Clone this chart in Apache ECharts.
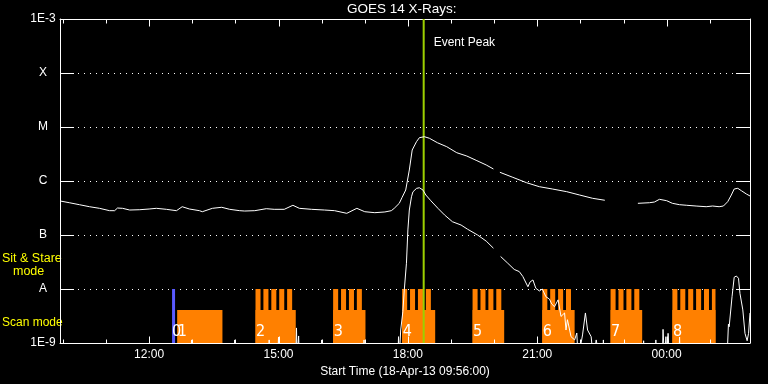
<!DOCTYPE html>
<html>
<head>
<meta charset="utf-8">
<script src="https://cdn.jsdelivr.net/npm/echarts/dist/echarts.min.js"></script>
<style>html,body{margin:0;padding:0;background:#000;}#c{width:768px;height:384px;}</style>
</head>
<body>
<div id="c"></div>
<script>
// ---------- data ----------
const startTime = '09:56';
const spanHours = 16;
const hourTicks = ['10:00','11:00','12:00','13:00','14:00','15:00','16:00','17:00','18:00','19:00','20:00','21:00','22:00','23:00','00:00','01:00'];
const timeLabels = ['12:00','15:00','18:00','21:00','00:00'];
const yTickLabels = ['1E-9','A','B','C','M','X','1E-3'];

// GOES 1-8 A channel
const longTimes = ['09:56','10:09','10:23','10:37','10:51','11:05','11:12','11:16','11:23','11:33','11:47','12:00','12:10','12:24','12:38','12:46','12:56','13:10','13:14','13:28','13:41','13:52','14:06','14:13','14:27','14:43','14:54','15:08','15:20','15:29','15:46','16:04','16:18','16:35','16:49','17:00','17:14','17:28','17:37','17:41','17:48','17:52','17:57','18:02','18:06','18:12','18:16','18:23','18:30','18:41','18:54','19:08','19:22','19:36','19:49','19:59','20:04','20:08','20:26','20:45','21:03','21:21','21:41','21:59','22:17','22:34','23:00','23:20','23:36','23:43','23:50','00:00','00:08','00:18','00:28','00:41','00:55','01:04','01:13','01:19','01:25','01:30','01:34','01:39','01:44','01:51','01:56'];
const longValues = [4.27e-7,3.96e-7,3.64e-7,3.34e-7,3.12e-7,2.82e-7,2.82e-7,3.16e-7,3.12e-7,2.90e-7,2.94e-7,3.03e-7,3.12e-7,2.99e-7,2.82e-7,3.34e-7,3.03e-7,2.82e-7,2.70e-7,3.12e-7,3.26e-7,2.99e-7,2.82e-7,2.78e-7,2.82e-7,3.07e-7,2.99e-7,2.99e-7,3.55e-7,3.12e-7,2.99e-7,2.90e-7,2.82e-7,2.52e-7,3.12e-7,2.70e-7,2.59e-7,2.67e-7,2.82e-7,3.12e-7,3.86e-7,4.99e-7,6.81e-7,1.60e-6,3.75e-6,5.35e-6,6.34e-6,6.61e-6,6.18e-6,5.12e-6,4.32e-6,3.34e-6,2.90e-6,2.38e-6,1.98e-6,1.67e-6,null,1.45e-6,1.17e-6,9.30e-7,7.84e-7,7.11e-7,6.34e-7,5.50e-7,4.78e-7,4.40e-7,null,3.86e-7,3.96e-7,4.08e-7,4.58e-7,4.32e-7,3.86e-7,3.64e-7,3.55e-7,3.44e-7,3.34e-7,3.44e-7,3.34e-7,3.44e-7,4.14e-7,5.50e-7,7.11e-7,7.32e-7,6.61e-7,5.74e-7,5.28e-7];

// GOES 0.5-4 A channel (5e-10 = below the plotted range)
const shortTimes = ['09:56','12:58','12:59','13:00','13:58','13:59','14:00','14:46','14:47','14:48','14:59','15:00','15:01','15:24','15:25','15:26','15:28','15:29','15:59','16:00','16:01','16:58','16:59','17:00','17:46','17:47','17:48','17:50','17:53','17:55','17:58','18:00','18:02','18:05','18:07','18:12','18:16','18:21','18:25','18:32','18:42','18:51','19:02','19:14','19:23','19:37','19:49','19:59','20:04','20:09','20:19','20:28','20:35','20:40','20:47','20:50','20:54','20:58','21:03','21:07','21:12','21:17','21:20','21:24','21:29','21:33','21:38','21:40','21:42','21:47','21:52','21:55','21:57','22:03','22:07','22:10','22:15','22:18','22:22','22:27','22:31','22:32','22:33','23:00','23:27','23:28','23:29','23:44','23:45','23:46','23:54','23:55','23:57','23:59','00:01','00:02','00:04','00:17','00:18','00:19','01:24','01:26','01:27','01:31','01:34','01:37','01:40','01:42','01:46','01:49','01:52','01:54','01:56'];
const shortValues = [5e-10,5e-10,1.14e-9,5e-10,5e-10,1.14e-9,5e-10,5e-10,1.14e-9,5e-10,5e-10,1.29e-9,5e-10,5e-10,1.9e-9,5e-10,1.35e-9,5e-10,5e-10,1.14e-9,5e-10,5e-10,1.14e-9,5e-10,5e-10,1.31e-9,5e-10,1.74e-9,3.8e-9,9.6e-9,3.0e-8,1.24e-7,2.9e-7,5.1e-7,6.3e-7,7.3e-7,7.5e-7,6.8e-7,5.5e-7,4.3e-7,3.1e-7,2.35e-7,1.76e-7,1.53e-7,1.28e-7,1.0e-7,7.7e-8,5.7e-8,null,4.0e-8,3.0e-8,2.3e-8,2.1e-8,1.7e-8,1.1e-8,1.35e-8,1.47e-8,1.03e-8,9.2e-9,1.0e-8,7.2e-9,6.5e-9,5.3e-9,4.7e-9,6.3e-9,3.1e-9,3.6e-9,1.74e-9,2.7e-9,1.31e-9,1.14e-9,1.53e-9,5e-10,1.41e-9,3.6e-9,1.74e-9,1.31e-9,5e-10,1.14e-9,5e-10,5e-10,1.14e-9,5e-10,null,5e-10,1.1e-9,5e-10,5e-10,1.14e-9,5e-10,5e-10,1.79e-9,5e-10,1.31e-9,5e-10,1.51e-9,5e-10,5e-10,1.29e-9,5e-10,5e-10,2.25e-9,2.0e-9,7.2e-9,1.65e-8,1.74e-8,1.58e-8,8.3e-9,4.1e-9,1.51e-9,1.1e-9,1.51e-9,3.6e-9];

// observing-mode blocks
const blockStart = ['12:39','14:28','16:16','17:52','19:30','21:07','22:42','00:08'];
const blockEnd   = ['13:42','15:24','17:01','18:38','20:14','21:52','23:26','01:08'];
const blockTeeth = [0,5,4,4,4,4,4,6];
const blockLabels = ['1','2','3','4','5','6','7','8'];
const toothPeriodMin = 11;
const toothWidthMin = 7;
const scanLevel = 4.08e-9;
const stareLevel = 1e-8;
const startMarkTime = '12:34';
const startMarkLabel = '0';
const eventTime = '18:22';
const eventLabel = 'Event Peak';

const Y_MIN = 1e-9, Y_MAX = 1e-3;

// ---------- helpers ----------
function toHour(s){ const p = s.split(':').map(Number); let v = p[0] + p[1]/60; if (v < 9) v += 24; return v; }
const X_MIN = toHour(startTime), X_MAX = X_MIN + spanHours;
const FONT = "'Liberation Sans', Arial, sans-serif";
const NUMFONT = "'Liberation Sans Narrow', 'DejaVu Sans Condensed', 'Liberation Sans', sans-serif";
function zip(ts, vs){ return ts.map((t,i)=>[toHour(t), vs[i] === null ? '-' : vs[i]]); }

const hourVals = hourTicks.map(toHour);
const majorVals = timeLabels.map(toHour);
function isMajor(v){ return majorVals.some(m => Math.abs(m - v) < 1e-6); }
function fmtHour(v){ const i = majorVals.findIndex(m => Math.abs(m - v) < 1e-6); return i >= 0 ? timeLabels[i] : ''; }

const white = '#ffffff';

const chart = echarts.init(document.getElementById('c'));
const option = {
  backgroundColor:'#000',
  animation:false,
  title:{text:'GOES 14 X-Rays:', left:347, top:2, padding:0,
    textStyle:{color:white, fontFamily:FONT, fontSize:13.5, fontWeight:'normal'}},
  grid:{left:60, right:18, top:19, bottom:41, containLabel:false, outerBoundsMode:'none'},
  graphic:[
    {type:'text', left:2, top:252, style:{text:'Sit & Stare', fill:'#ffff00', font:'12.5px '+FONT}},
    {type:'text', left:13, top:265, style:{text:'mode', fill:'#ffff00', font:'12.5px '+FONT}},
    {type:'text', left:2, top:317, style:{text:'Scan mode', fill:'#ffff00', font:'12px '+FONT}}
  ],
  xAxis:[
    {type:'value', gridIndex:0, position:'bottom', min:X_MIN, max:X_MAX,
      axisLine:{show:true, onZero:false, lineStyle:{color:white, width:1}},
      axisTick:{show:false},
      axisLabel:{show:true, customValues:majorVals, formatter:fmtHour, color:white, fontFamily:FONT, fontSize:12, margin:6},
      splitLine:{show:false},
      name:'Start Time (18-Apr-13 09:56:00)', nameLocation:'middle', nameGap:18,
      nameTextStyle:{color:white, fontFamily:FONT, fontSize:12}},
    {type:'value', gridIndex:0, position:'top', min:X_MIN, max:X_MAX,
      axisLine:{show:true, onZero:false, lineStyle:{color:white, width:1}},
      axisTick:{show:false}, axisLabel:{show:false}, splitLine:{show:false}}
  ],
  yAxis:[
    {type:'log', logBase:10, min:Y_MIN, max:Y_MAX, position:'left',
      axisLine:{show:true, lineStyle:{color:white}},
      axisTick:{show:true, inside:true, length:14, lineStyle:{color:white}},
      minorTick:{show:false},
      axisLabel:{color:white, fontFamily:FONT, fontSize:12, align:'center', margin:17,
        formatter:(v)=> yTickLabels[Math.round(Math.log10(v)) + 9]},
      splitLine:{show:true, lineStyle:{color:white, width:1, type:[1,5]}}},
    {type:'log', logBase:10, min:Y_MIN, max:Y_MAX, position:'right',
      axisLine:{show:true, lineStyle:{color:white}},
      axisTick:{show:true, inside:true, length:14, lineStyle:{color:white}},
      axisLabel:{show:false}, splitLine:{show:false}}
  ],
  series:[
    {type:'custom', name:'modes', xAxisIndex:0, yAxisIndex:0,
      data: blockStart.map((s,i)=>[toHour(s), toHour(blockEnd[i]), blockTeeth[i]]),
      encode:{x:[0,1], y:-1},
      renderItem:(params, api)=>{
        const s = api.value(0), e = api.value(1), n = api.value(2);
        const b0 = api.coord([s, Y_MIN]), b1 = api.coord([e, scanLevel]);
        const children = [{type:'rect', shape:{x:b0[0], y:b1[1], width:b1[0]-b0[0], height:b0[1]-b1[1]},
          style:{fill:'#ff8000'}}];
        for (let k=0;k<n;k++){
          const ts = s + k*toothPeriodMin/60;
          const te = Math.min(ts + toothWidthMin/60, e);
          const a = api.coord([ts, stareLevel]), b = api.coord([te, Y_MIN]);
          children.push({type:'rect', shape:{x:a[0], y:a[1], width:b[0]-a[0], height:b[1]-a[1]}, style:{fill:'#ff8000'}});
        }
        children.push({type:'text', x:b0[0]+0.5, y:b0[1]-3,
          style:{text:blockLabels[params.dataIndex], fill:white, font:'16px '+NUMFONT, textVerticalAlign:'bottom', textAlign:'left'}});
        return {type:'group', children};
      }},
    {type:'line', name:'1-8 A', xAxisIndex:0, yAxisIndex:0, data:zip(longTimes, longValues),
      showSymbol:false, symbol:'none', connectNulls:false,
      lineStyle:{color:white, width:1}},
    {type:'line', name:'0.5-4 A', xAxisIndex:0, yAxisIndex:0, data:zip(shortTimes, shortValues),
      showSymbol:false, symbol:'none', connectNulls:false,
      lineStyle:{color:white, width:1}},
    {type:'custom', name:'start', xAxisIndex:0, yAxisIndex:0,
      data:[[toHour(startMarkTime)]], encode:{x:0, y:-1},
      renderItem:(params, api)=>{
        const t = api.value(0);
        const a = api.coord([t, stareLevel]), b = api.coord([t, Y_MIN]);
        return {type:'group', children:[
          {type:'line', shape:{x1:a[0], y1:a[1], x2:b[0], y2:b[1]}, style:{stroke:'#5a5aff', lineWidth:3}},
          {type:'text', x:a[0]-1.5, y:b[1]-3, style:{text:startMarkLabel, fill:white, font:'16px '+NUMFONT, textVerticalAlign:'bottom', textAlign:'left'}}
        ]};
      }},
    {type:'custom', name:'event', xAxisIndex:0, yAxisIndex:0,
      data:[[toHour(eventTime)]], encode:{x:0, y:-1},
      renderItem:(params, api)=>{
        const t = api.value(0);
        const a = api.coord([t, Y_MAX]), b = api.coord([t, Y_MIN]);
        return {type:'group', children:[
          {type:'line', shape:{x1:a[0], y1:a[1], x2:b[0], y2:b[1]}, style:{stroke:'#9ccf00', lineWidth:2}},
          {type:'text', x:a[0]+10, y:a[1]+23.5, style:{text:eventLabel, fill:white, font:'12px '+FONT, textVerticalAlign:'middle', textAlign:'left'}}
        ]};
      }},
    // time-axis tick marks (hourly minor, 3-hourly major) on bottom and top edges
    {type:'custom', name:'timeTicks', xAxisIndex:0, yAxisIndex:0, silent:true,
      data: hourVals.map(h => [h, isMajor(h) ? 1 : 0]), encode:{x:0, y:-1},
      renderItem:(params, api)=>{
        const t = api.value(0), len = api.value(1) ? 7 : 4;
        const bot = api.coord([t, Y_MIN]), top = api.coord([t, Y_MAX]);
        const x = Math.round(bot[0]) + 0.5;
        const yb = Math.round(bot[1]) + 0.5, yt = Math.round(top[1]) + 0.5;
        return {type:'group', children:[
          {type:'line', shape:{x1:x, y1:yb, x2:x, y2:yb-len}, style:{stroke:white, lineWidth:1}},
          {type:'line', shape:{x1:x, y1:yt, x2:x, y2:yt+len}, style:{stroke:white, lineWidth:1}}
        ]};
      }}
  ]
};
chart.setOption(option);
</script>
</body>
</html>
